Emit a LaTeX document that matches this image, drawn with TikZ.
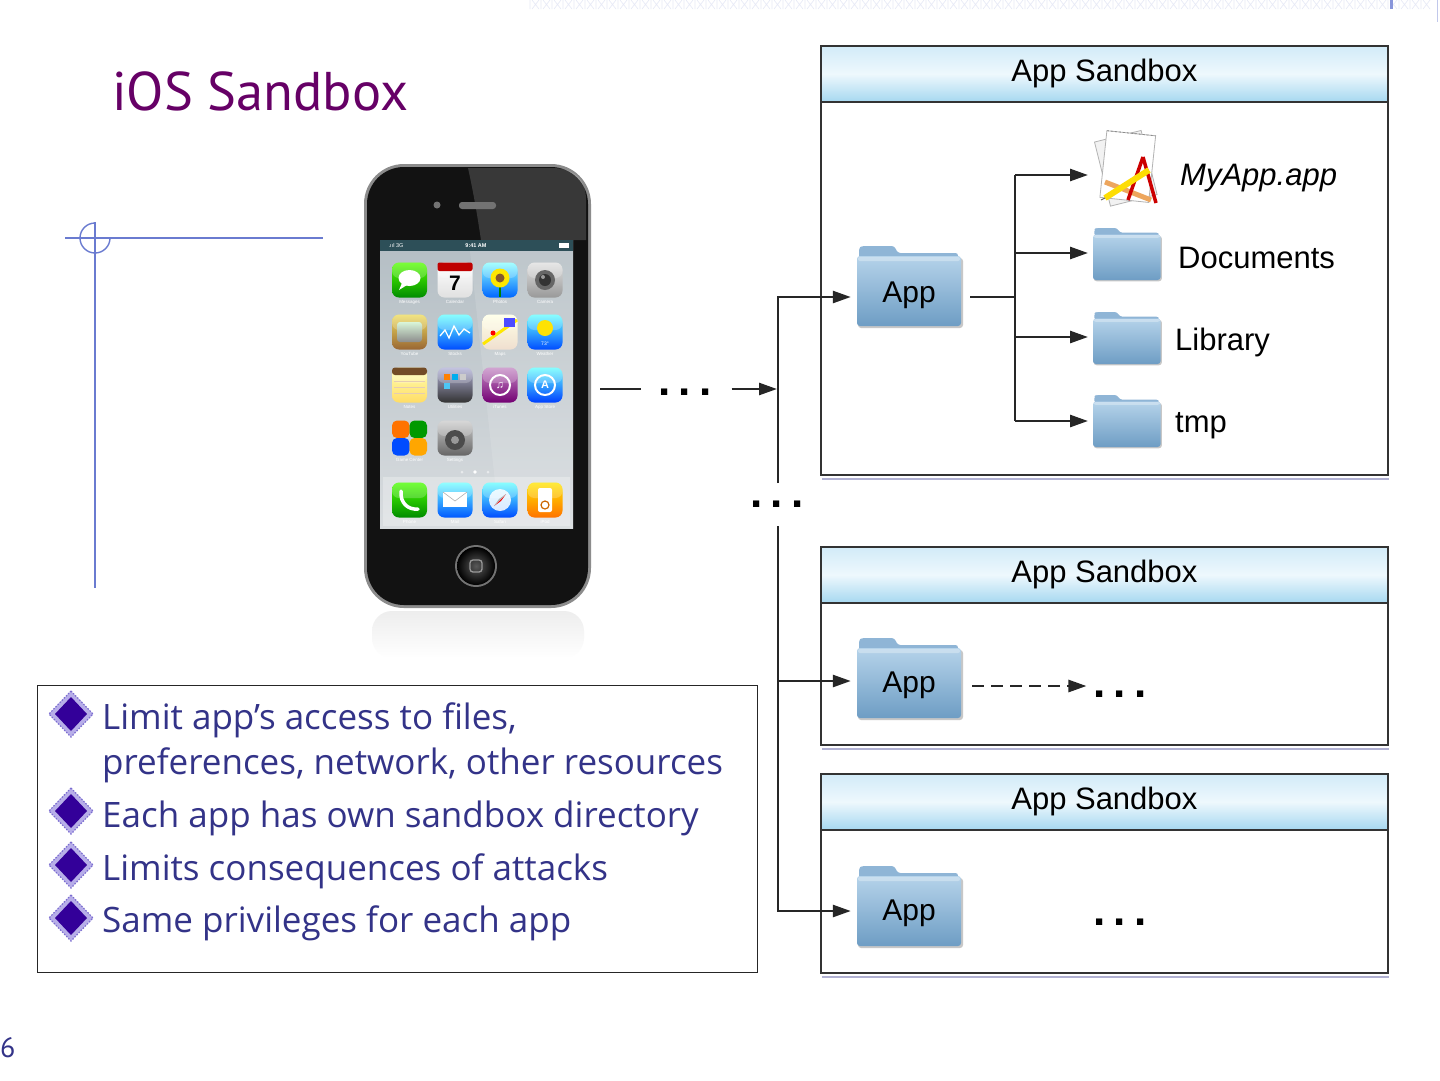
\documentclass[tikz,border=0pt]{standalone}
\usepackage{fontspec}
\setmainfont{PT Sans}
\newfontfamily\lsans{Liberation Sans}
\newfontfamily\bfont{Open Sans}
\usetikzlibrary{arrows.meta,calc}
\definecolor{ttl}{HTML}{660066}
\definecolor{btxt}{HTML}{333388}
\definecolor{dia}{HTML}{330099}
\definecolor{dialt}{HTML}{B7AEE8}
\definecolor{diaedge}{HTML}{7A6CD0}
\definecolor{hdtop}{HTML}{D2EBF8}
\definecolor{hdmid}{HTML}{EEF8FD}
\definecolor{hdbot}{HTML}{A6D8F0}
\definecolor{fldtop}{HTML}{B5D3EA}
\definecolor{fldbot}{HTML}{6E9DC4}
\definecolor{tabcol}{HTML}{8FB5D6}
\definecolor{deco}{HTML}{6A7BD0}
\definecolor{strip}{HTML}{E6E9F6}
\definecolor{shad}{HTML}{9090C0}
\definecolor{statbar}{HTML}{2D4F58}
\definecolor{scrtop}{HTML}{B4BEC4}
\definecolor{scrbot}{HTML}{D8DCDF}
\newcommand\phic[4]{%
  \shade[top color=#3, bottom color=#4, rounded corners=7pt] (#1-17.5,#2-17.5) rectangle (#1+17.5,#2+17.5);
  \fill[white, opacity=0.22, rounded corners=7pt] (#1-17.5,#2-17.5) rectangle (#1+17.5,#2-2);}
\newcommand\phlab[3]{\node[font=\lsans\fontsize{4.5}{4.5}\selectfont, text=white, inner sep=0] (#3) at (#1,#2+22) {#3};}
\newcommand\bdia[2]{%
  \fill[dialt] (#1,#2-23) -- (#1+22,#2) -- (#1,#2+23) -- (#1-22,#2) -- cycle;
  \draw[diaedge, line width=1.2pt, dash pattern=on 1.5pt off 1.5pt] (#1,#2-23) -- (#1+22,#2) -- (#1,#2+23) -- (#1-22,#2) -- cycle;
  \fill[dia] (#1,#2-17) -- (#1+16,#2) -- (#1,#2+17) -- (#1-16,#2) -- cycle;}
\begin{document}
\begin{tikzpicture}[x=1pt,y=-1pt,
  conn/.style={line width=2.6pt, black!85},
  arr/.style={conn, -{Triangle[length=18pt,width=12pt]}},
  sbox/.style={draw=black!80, line width=1.8pt, fill=white, anchor=north west, minimum width=567pt, inner sep=0pt},
  sbhead/.style={draw=black!80, line width=1.8pt, anchor=north west, minimum width=567pt, minimum height=56pt, top color=hdtop, bottom color=hdbot, middle color=hdmid, font=\lsans\fontsize{31}{31}\selectfont, inner sep=0pt},
  flabel/.style={font=\lsans\fontsize{31}{31}\selectfont, anchor=base west, inner sep=0pt},
  applbl/.style={font=\lsans\fontsize{30}{30}\selectfont, anchor=base, inner sep=0pt, minimum width=104pt},
  dots/.style={font=\lsans\bfseries\fontsize{44}{44}\selectfont, inner sep=0pt},
  btext/.style={font=\bfont\fontsize{35}{35}\selectfont, text=btxt, anchor=base west, inner sep=0pt},
  iconbox/.style={inner sep=0pt, anchor=north west, minimum width=68pt, minimum height=52pt},
  folderpic/.pic={
    \fill[black!22, rounded corners=3pt] (1,12) rectangle (106,82);
    \fill[tabcol, rounded corners=2.5pt] (2,12) -- (2,2) -- (5,0) -- (37,0) -- (41,7) -- (101,7) -- (101,12) -- cycle;
    \shade[top color=fldtop, bottom color=fldbot, rounded corners=3pt] (0,10) rectangle (104,80);
    \fill[white, opacity=0.3, rounded corners=2pt] (1,11) rectangle (103,15);
  }
]
\useasboundingbox (0,0) rectangle (1440,1080);
\fill[white] (0,0) rectangle (1440,1080);

% top decorative strip
\foreach \i in {530,541,...,1430} {
  \draw[strip, line width=0.6pt] (\i,0) -- (\i,9) (\i+2,0) -- (\i+9,9) (\i+9,0) -- (\i+2,9);
}
\fill[deco!80] (1390,0) rectangle (1393,9);
\draw[strip!70!deco, line width=0.8pt] (1437,0) -- (1437,22);

% left decoration
\draw[deco, line width=1.4pt] (65,238) -- (323,238);
\draw[deco, line width=1.4pt] (95,222) -- (95,588);
\draw[deco, line width=1.4pt] (95,223) arc[start angle=270, end angle=0, radius=15];

% title
\node[font=\fontsize{54.5}{54.5}\selectfont, text=ttl, anchor=base west, inner sep=0pt] (title) at (112,110) {iOS Sandbox};

% ---------- phone ----------
\shade[top color=black!7, bottom color=white, rounded corners=20pt] (372,611) rectangle (584,658);
\fill[black!45, rounded corners=40pt] (364,164) rectangle (591,608);
\fill[black!93, rounded corners=37pt] (367,167) rectangle (588,605);
\fill[white, opacity=0.16] (468,168) .. controls (474,195) and (478,220) .. (481,240) -- (586,240) -- (586,200) .. controls (586,180) and (575,168) .. (552,168) -- cycle;
\fill[black!55, rounded corners=3pt] (459,202) rectangle (496,209);
\fill[black!55] (437,205) circle (3.5);
\shade[top color=scrtop, bottom color=scrbot] (380,240) rectangle (573,528);
\fill[white, opacity=0.12] (470,251) -- (573,251) -- (573,528) -- (500,528) -- cycle;
\fill[statbar] (380,240) rectangle (573,251);
\node[font=\lsans\fontsize{5.5}{5.5}\selectfont, text=white, inner sep=0pt] (net) at (396,245.5) {.ııl 3G};
\node[font=\lsans\bfseries\fontsize{5.5}{5.5}\selectfont, text=white, inner sep=0pt] (clock) at (476,245.5) {9:41 AM};
\fill[white] (559,243) rectangle (569,248);
\fill[white, opacity=0.28] (383,477) rectangle (570,526);
\fill[white] (475,472) circle (1.8);
\fill[white, opacity=0.5] (462,472) circle (1.5) (488,472) circle (1.5);
% icons row 1
\phic{409.5}{280}{green!55!lime}{green!55!black}
\fill[white] (409.5,278) ellipse (11 and 8);
\fill[white] (402,283) -- (399,290) -- (407,285) -- cycle;
\phic{455}{280}{white}{black!12}
\fill[red!75!black, rounded corners=2pt] (437.5,262.5) rectangle (472.5,271);
\node[font=\lsans\bfseries\fontsize{21}{21}\selectfont, inner sep=0pt] (cal7) at (455,283) {7};
\phic{500}{280}{cyan!45}{blue!60!cyan}
\fill[green!50!black] (499,284) rectangle (501,297);
\fill[yellow!90!orange] (500,278) circle (9.5);
\fill[brown!70!black] (500,278) circle (4.5);
\phic{545}{280}{black!12}{black!40}
\fill[black!60] (545,280) circle (10);
\fill[black!80] (545,280) circle (6);
\fill[white, opacity=0.5] (543,277) circle (2);
\phlab{409.5}{280}{Messages}
\phlab{455}{280}{Calendar}
\phlab{500}{280}{Photos}
\phlab{545}{280}{Camera}
% row 2
\phic{409.5}{332}{brown!40!yellow!70}{brown!80!black}
\shade[top color=black!25!green!15, bottom color=black!45, rounded corners=3pt] (397,322) rectangle (422,342);
\phic{455}{332}{cyan!60}{blue!70!cyan}
\draw[white, line width=1.3pt] (440,336) -- (445,330) -- (449,338) -- (454,326) -- (459,335) -- (464,329) -- (470,333);
\phic{500}{332}{yellow!10}{brown!25}
\draw[yellow!90!orange, line width=3pt] (483,344) -- (517,320);
\fill[blue!70] (504,318) rectangle (515,327);
\fill[red] (493,333) circle (2.5);
\phic{545}{332}{cyan!60}{blue!70!cyan}
\fill[yellow!85!orange] (545,328) circle (8);
\node[font=\lsans\fontsize{5}{5}\selectfont, text=white, inner sep=0pt] (temp) at (545,344) {73°};
\phlab{409.5}{332}{YouTube}
\phlab{455}{332}{Stocks}
\phlab{500}{332}{Maps}
\phlab{545}{332}{Weather}
% row 3
\phic{409.5}{385}{yellow!30}{yellow!55!orange!60}
\fill[brown!60!black, rounded corners=3pt] (392,367.5) rectangle (427,375);
\draw[brown!40, line width=0.5pt] (394,381) -- (425,381) (394,387) -- (425,387) (394,393) -- (425,393);
\phic{455}{385}{black!50!blue!30}{black!80}
\fill[orange] (444,374) rectangle (450,380);
\fill[cyan] (452,374) rectangle (458,380);
\fill[black!20] (460,374) rectangle (466,380);
\fill[cyan!70] (444,383) rectangle (450,389);
\phic{500}{385}{violet!45}{violet!90!black}
\draw[white, line width=2pt] (500,385) circle (10);
\node[font=\lsans\bfseries\fontsize{11}{11}\selectfont, text=white, inner sep=0pt] (note) at (500,385) {♫};
\phic{545}{385}{cyan!60}{blue!75!cyan}
\draw[white, line width=2pt] (545,385) circle (10);
\node[font=\lsans\bfseries\fontsize{11}{11}\selectfont, text=white, inner sep=0pt] (astore) at (545,385) {A};
\phlab{409.5}{385}{Notes}
\phlab{455}{385}{Utilities}
\phlab{500}{385}{iTunes}
\phlab{545}{385}{App Store}
% row 4
\fill[orange!90!red, rounded corners=5pt] (392,420.5) rectangle (409.5,438);
\fill[green!60!black, rounded corners=5pt] (409.5,420.5) rectangle (427,438);
\fill[blue!70!cyan, rounded corners=5pt] (392,438) rectangle (409.5,455.5);
\fill[orange!70!yellow, rounded corners=5pt] (409.5,438) rectangle (427,455.5);
\phic{455}{438}{black!20}{black!60}
\fill[black!70] (455,440) circle (10);
\fill[black!40] (455,440) circle (4);
\phlab{409.5}{438}{Game Center}
\phlab{455}{438}{Settings}
% dock
\phic{409.5}{500}{green!60!lime}{green!55!black}
\draw[white, line width=3.5pt, line cap=round] (401,491) .. controls (400,503) and (408,510) .. (418,509);
\phic{455}{500}{cyan!55}{blue!65!cyan}
\fill[white] (443,492) rectangle (467,507);
\draw[black!30, line width=0.6pt] (443,492) -- (455,501) -- (467,492);
\phic{500}{500}{cyan!60}{blue!70!cyan}
\fill[white, opacity=0.85] (500,500) circle (11);
\fill[red] (494,506) -- (506,494) -- (501,501) -- cycle;
\fill[black!30] (494,506) -- (506,494) -- (499,499) -- cycle;
\phic{545}{500}{yellow!80!orange}{orange!90!red}
\fill[white, rounded corners=2pt] (538,488) rectangle (552,512);
\draw[orange!80!black, line width=1.2pt] (545,505) circle (4);
\phlab{409.5}{500}{Phone}
\phlab{455}{500}{Mail}
\phlab{500}{500}{Safari}
\phlab{545}{500}{iPod}
% home button
\fill[black!55] (476,566) circle (21);
\shade[inner color=black!65, outer color=black] (476,566) circle (19);
\draw[black!40, line width=1.3pt, rounded corners=3pt] (470,560) rectangle (482,572);
\node[inner sep=0pt, minimum width=227pt, minimum height=444pt] (phone) at (477.5,386) {};

% ---------- bullets ----------
\node[draw=black!85, line width=1pt, minimum width=720pt, minimum height=287pt, anchor=north west, inner sep=0pt] (bbox) at (37,685) {};
\bdia{71}{714}
\bdia{71}{811}
\bdia{71}{865}
\bdia{71}{918}
\node[btext] (b1) at (102,729) {Limit app’s access to files,};
\node[btext] (b1b) at (102,774) {preferences, network, other resources};
\node[btext] (b2) at (102,827) {Each app has own sandbox directory};
\node[btext] (b3) at (102,880) {Limits consequences of attacks};
\node[btext] (b4) at (102,932) {Same privileges for each app};

\node[font=\fontsize{28}{28}\selectfont, text=btxt, anchor=base west, inner sep=0pt] (pg) at (0,1057) {6};

% ---------- sandboxes ----------
\node[sbox, minimum height=429pt] (sb1) at (820,45) {};
\node[sbox, minimum height=198pt] (sb2) at (820,546) {};
\node[sbox, minimum height=199pt] (sb3) at (820,773) {};
\foreach \s in {sb1,sb2,sb3} {
  \draw[shad!70, line width=2pt] ($(\s.south west)+(2,3)$) -- ($(\s.south east)+(0,3)$);
}
\node[sbhead] (h1) at (sb1.north west) {App Sandbox};
\node[sbhead] (h2) at (sb2.north west) {App Sandbox};
\node[sbhead] (h3) at (sb3.north west) {App Sandbox};

% folders
\pic at (857,246) {folderpic};
\pic at (857,638) {folderpic};
\pic at (857,866) {folderpic};
\node[applbl] (app1) at (909,302) {App};
\node[applbl] (app2) at (909,692) {App};
\node[applbl] (app3) at (909,920) {App};

\pic[scale=0.65] at (1093,228) {folderpic};
\pic[scale=0.65] at (1093,312) {folderpic};
\pic[scale=0.65] at (1093,395) {folderpic};
\node[iconbox] (docs) at (1093,228) {};
\node[iconbox] (lib) at (1093,312) {};
\node[iconbox] (tmpf) at (1093,395) {};

% MyApp.app icon
\begin{scope}[shift={(1127,169)}]
  \filldraw[fill=black!5, draw=black!30, line width=0.8pt, rotate=14] (-25,-34) rectangle (23,32);
  \filldraw[fill=white, draw=black!30, line width=0.8pt, rotate=-6] (-24,-36) rectangle (25,31);
  \draw[black!45, line width=0.8pt, dash pattern=on 2pt off 2pt, rotate=-6] (-24,-36) -- (25,-36);
  \draw[orange!60!brown!70, line width=5pt] (-22,13) -- (24,31);
  \draw[red!80!black, line width=3.5pt] (16,-12) -- (1,31);
  \draw[red!80!black, line width=3.5pt] (16,-12) -- (29,34);
  \draw[yellow!80!orange, line width=6pt] (-22,29) -- (22,1);
  \draw[black!60, line width=1pt] (-22,29) -- (-26,31);
\end{scope}
\node[iconbox, minimum width=75pt, minimum height=78pt] (myappic) at (1090,130) {};

\node[flabel, font=\lsans\itshape\fontsize{31}{31}\selectfont] (lmyapp) at (1180,185) {MyApp.app};
\node[flabel] (ldocs) at (1178,268) {Documents};
\node[flabel] (llib) at (1175,350) {Library};
\node[flabel] (ltmp) at (1175,432) {tmp};

% inner tree
\coordinate (j0) at (1015,297);
\coordinate (ja) at (1015,175);
\coordinate (jb) at (1015,253);
\coordinate (jc) at (1015,337);
\coordinate (jd) at (1015,421);
\draw[conn, shorten <=9pt] (app1.east |- j0) -- (j0);
\draw[conn] (ja) -- (jd);
\draw[arr, shorten >=2pt] (ja) -- (ja -| myappic.west);
\draw[arr, shorten >=5pt] (jb) -- (jb -| docs.west);
\draw[arr, shorten >=5pt] (jc) -- (jc -| lib.west);
\draw[arr, shorten >=5pt] (jd) -- (jd -| tmpf.west);

% dots
\node[dots] (pd) at (685,392) {.\hspace{8pt}.\hspace{8pt}.};
\node[dots] (vd) at (777,504) {.\hspace{8pt}.\hspace{8pt}.};
\node[dots] (d2) at (1120,694) {.\hspace{8pt}.\hspace{8pt}.};
\node[dots] (d3) at (1120,922) {.\hspace{8pt}.\hspace{8pt}.};

% trunk
\coordinate (t1) at (778,297);
\coordinate (t2) at (778,483);
\coordinate (t3) at (778,526);
\coordinate (t4) at (778,681);
\coordinate (t5) at (778,911);
\coordinate (pj) at (778,389);
\draw[arr, shorten >=6pt] (t2) -- (t1) -- (t1 -| app1.west);
\draw[arr, shorten >=6pt] (t3) -- (t5) -- (t5 -| app3.west);
\draw[arr, shorten >=6pt] (t4) -- (t4 -| app2.west);
\draw[conn, shorten <=9pt, shorten >=17pt] (phone.east |- pj) -- (pd.west |- pj);
\draw[arr, shorten <=20pt, shorten >=1pt] (pd.east |- pj) -- (pj);
\draw[arr, dash pattern=on 12pt off 7pt, shorten <=11pt, shorten >=1pt] (app2.east |- 0,686) -- ($(d2.west |- 0,686)+(-6,0)$);
\end{tikzpicture}
\end{document}
